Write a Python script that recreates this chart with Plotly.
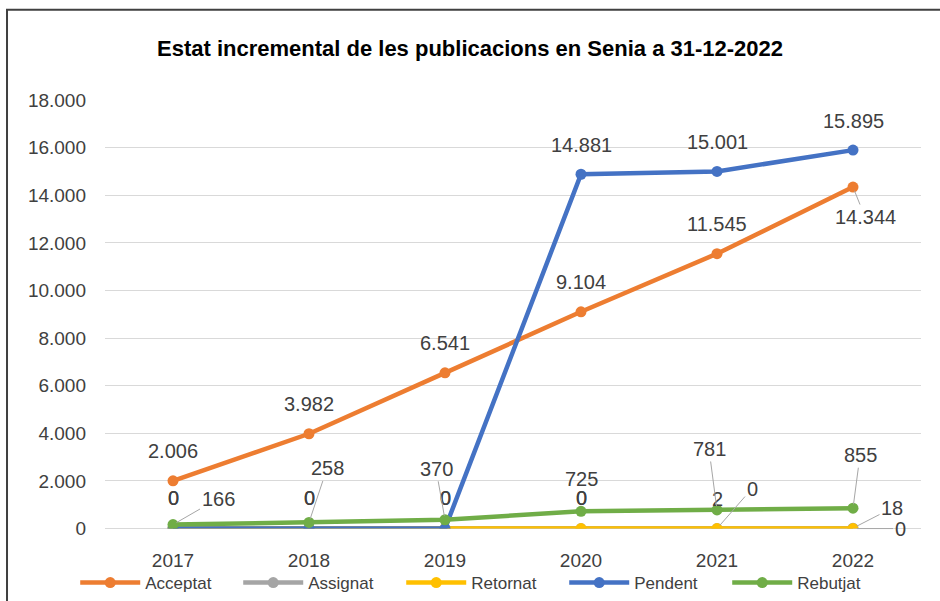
import plotly.graph_objects as go

years = ["2017", "2018", "2019", "2020", "2021", "2022"]
acceptat = [2006, 3982, 6541, 9104, 11545, 14344]
assignat = [0, 0, 0, 0, 2, 18]
retornat = [0, 0, 0, 0, 0, 0]
pendent = [0, 0, 0, 14881, 15001, 15895]
rebutjat = [166, 258, 370, 725, 781, 855]

series = [
    ("Acceptat", acceptat, "#ED7D31"),
    ("Assignat", assignat, "#A5A5A5"),
    ("Retornat", retornat, "#FFC000"),
    ("Pendent", pendent, "#4472C4"),
    ("Rebutjat", rebutjat, "#70AD47"),
]

def fmt(v):
    return f"{v:,}".replace(",", ".")

fig = go.Figure()
for name, vals, col in series:
    fig.add_trace(go.Scatter(
        x=years, y=vals, name=name, mode="lines+markers",
        line=dict(color=col, width=4.5),
        marker=dict(color=col, size=11, symbol="circle"),
        hoverinfo="skip",
    ))

LBL = dict(family="Liberation Sans", size=20, color="#404040")
ann = []

def plain(i, y, text, dx=0, dy=30):
    ann.append(dict(x=i, y=y, text=text, showarrow=False, xshift=dx, yshift=dy, font=LBL))

def leader(i, y, text, ax, ay):
    ann.append(dict(x=i, y=y, text=text, showarrow=True, ax=ax, ay=ay,
                    arrowhead=0, arrowwidth=1, arrowcolor="#a6a6a6",
                    standoff=4, font=LBL))

# Acceptat labels
for i in range(5):
    plain(i, acceptat[i], fmt(acceptat[i]), 0, 30)
leader(5, acceptat[5], fmt(acceptat[5]), 12, 30)

# Pendent labels
for i in range(3):
    plain(i, pendent[i], fmt(pendent[i]), 0, 31)
for i in range(3, 6):
    plain(i, pendent[i], fmt(pendent[i]), 0, 29)

# Assignat labels
for i in range(4):
    plain(i, assignat[i], fmt(assignat[i]), 0, 31)
plain(4, assignat[4], fmt(assignat[4]), 0, 30)
leader(5, assignat[5], fmt(assignat[5]), 39, -20)

# Retornat labels
plain(3, retornat[3], fmt(retornat[3]), 0, 31)
leader(4, retornat[4], fmt(retornat[4]), 35, -40)
leader(5, retornat[5], fmt(retornat[5]), 47, 0)

# Rebutjat labels
leader(0, rebutjat[0], fmt(rebutjat[0]), 45, -26)
leader(1, rebutjat[1], fmt(rebutjat[1]), 18, -54)
leader(2, rebutjat[2], fmt(rebutjat[2]), -9, -51)
plain(3, rebutjat[3], fmt(rebutjat[3]), 0, 32)
leader(4, rebutjat[4], fmt(rebutjat[4]), -8, -61)
leader(5, rebutjat[5], fmt(rebutjat[5]), 7, -53)

yticks = list(range(0, 18001, 2000))

# paper region: x 70..940 px, y 100..601 px; axes placed via domains
fig.update_layout(
    width=940, height=601,
    margin=dict(l=70, r=0, t=100, b=0),
    paper_bgcolor="white", plot_bgcolor="white",
    title=dict(text="<b>Estat incremental de les publicacions en Senia a 31-12-2022</b>",
               x=0.5, xanchor="center", y=0.92, yanchor="middle",
               font=dict(family="Liberation Sans", size=22, color="#000000")),
    xaxis=dict(type="category", range=[-0.5, 5.5], domain=[0.04023, 0.97816],
               showgrid=False, zeroline=False, automargin=False,
               showline=False, ticks="", anchor="y",
               tickfont=dict(family="Liberation Sans", size=19, color="#404040"),
               ticklabelstandoff=18),
    yaxis=dict(range=[0, 18000], domain=[0.1377, 1], automargin=False,
               tickvals=yticks, ticktext=[fmt(v) for v in yticks],
               showgrid=True, gridcolor="#d9d9d9", gridwidth=1, zeroline=True,
               zerolinecolor="#d9d9d9", zerolinewidth=1,
               tickfont=dict(family="Liberation Sans", size=19, color="#404040"),
               ticklabelstandoff=18),
    showlegend=True,
    legend=dict(orientation="h", x=0.006, xanchor="left",
                y=0.028, yanchor="middle",
                font=dict(family="Liberation Sans", size=17, color="#404040"),
                itemwidth=60, entrywidth=88, bgcolor="rgba(0,0,0,0)"),
    annotations=ann,
    shapes=[dict(type="rect", xref="paper", yref="paper",
                 x0=-0.0724, x1=1.03, y0=-0.1, y1=1.1816,
                 line=dict(color="#404040", width=2), fillcolor="rgba(0,0,0,0)")],
)

fig.write_html("out.html", config={"displayModeBar": False},
               post_script="document.body.style.margin='0';document.body.style.padding='0';")
